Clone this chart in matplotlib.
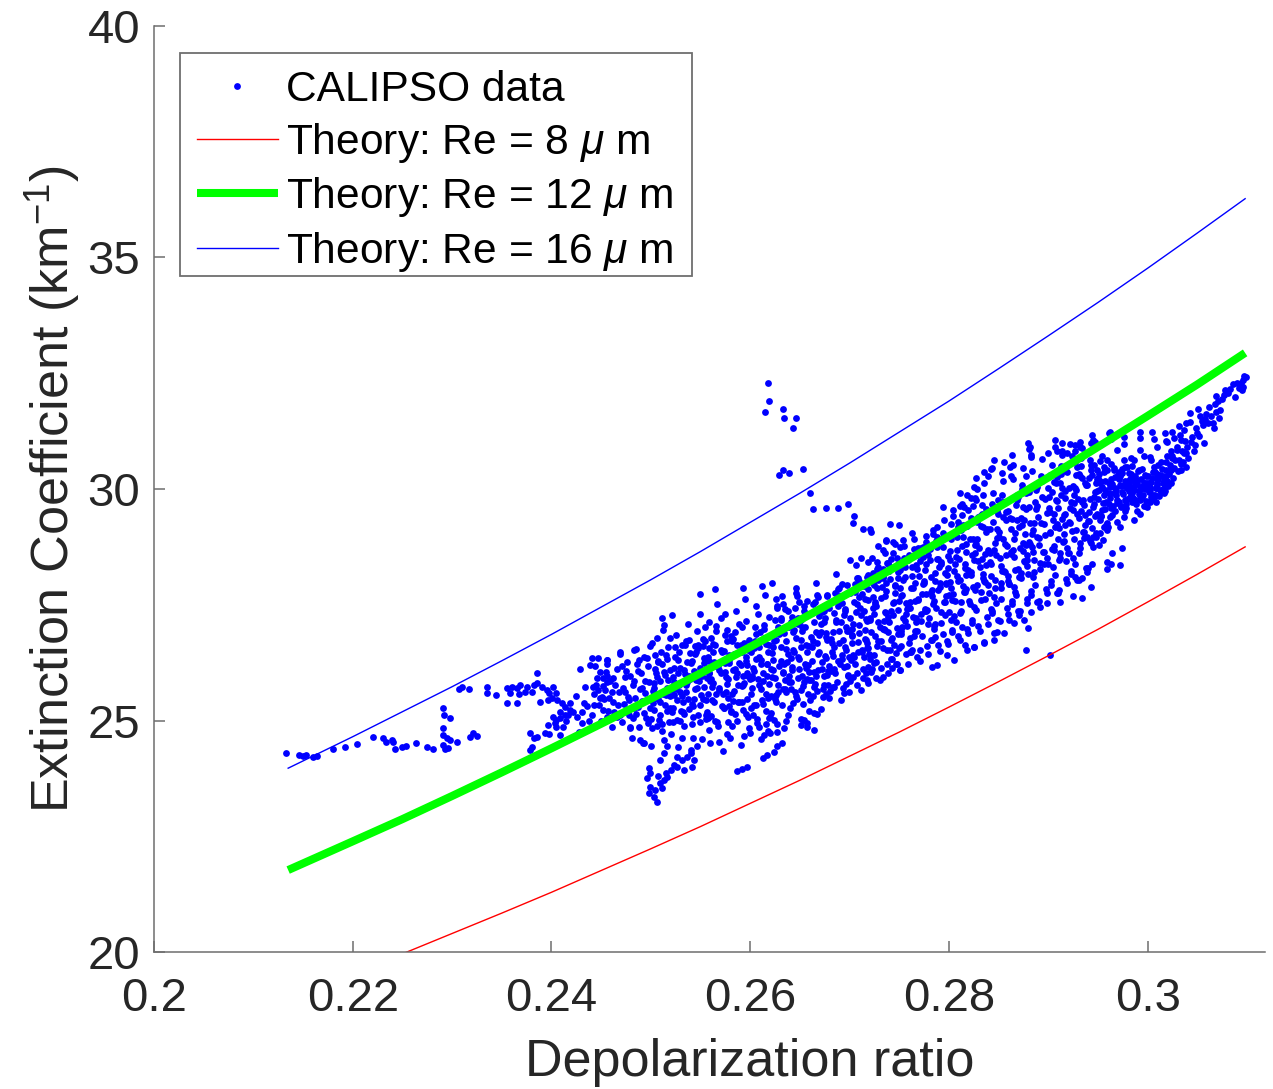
import matplotlib
matplotlib.use("Agg")
import matplotlib.pyplot as plt
from matplotlib.patches import Rectangle

plt.rcParams['font.family'] = ['Liberation Sans', 'DejaVu Sans']
plt.rcParams['mathtext.fontset'] = 'custom'
plt.rcParams['mathtext.rm'] = 'Liberation Sans'
plt.rcParams['mathtext.it'] = 'Liberation Sans:italic'
plt.rcParams['mathtext.bf'] = 'Liberation Sans:bold'

# ---------------- data ----------------
x_ticks = [0.2, 0.22, 0.24, 0.26, 0.28, 0.3]
x_tick_labels = ["0.2", "0.22", "0.24", "0.26", "0.28", "0.3"]
y_ticks = [20, 25, 30, 35, 40]
y_tick_labels = ["20", "25", "30", "35", "40"]

theory_x = [0.2135, 0.22, 0.225, 0.23, 0.235, 0.24, 0.245, 0.25, 0.255, 0.26,
            0.265, 0.27, 0.275, 0.28, 0.285, 0.29, 0.295, 0.30, 0.305, 0.3098]
re8_y = [19.00, 19.54, 19.96, 20.40, 20.84, 21.29, 21.76, 22.23, 22.71, 23.21,
         23.71, 24.23, 24.75, 25.29, 25.84, 26.40, 26.97, 27.56, 28.16, 28.75]
re12_y = [21.77, 22.39, 22.87, 23.37, 23.88, 24.40, 24.93, 25.47, 26.02, 26.59,
          27.17, 27.76, 28.36, 28.98, 29.61, 30.25, 30.91, 31.58, 32.26, 32.94]
re16_y = [23.97, 24.65, 25.19, 25.73, 26.29, 26.86, 27.45, 28.04, 28.65, 29.28,
          29.91, 30.56, 31.23, 31.90, 32.60, 33.31, 34.03, 34.77, 35.53, 36.27]

# CALIPSO points: low-depolarization tail
tail_pts = [
 (0.2133,24.30),(0.2146,24.25),(0.2150,24.23),(0.2153,24.25),(0.2160,24.21),(0.2164,24.23),(0.2180,24.38),
 (0.2192,24.43),(0.2204,24.49),(0.2220,24.64),(0.2230,24.62),(0.2233,24.54),(0.2240,24.58),(0.2241,24.54),
 (0.2243,24.38),(0.2250,24.43),(0.2254,24.45),(0.2264,24.51),(0.2275,24.43),(0.2281,24.38),(0.2291,25.27),
 (0.2292,25.12),(0.2298,25.05),(0.2291,24.84),(0.2291,24.69),(0.2295,24.62),(0.2298,24.58),(0.2291,24.47),
 (0.2293,24.38),(0.2296,24.41),(0.2305,24.54),(0.2307,25.68),(0.2310,25.72),(0.2317,25.68),(0.2318,24.64),
 (0.2321,24.73),(0.2325,24.66),(0.2335,25.72),(0.2335,25.59),(0.2344,25.55),
 (0.2355,25.70),(0.2360,25.73),(0.2365,25.70),(0.2368,25.77),(0.2375,25.73),(0.2382,25.77),(0.2385,25.80),
 (0.2390,25.73),(0.2395,25.66),(0.2402,25.73),(0.2405,25.59),(0.2358,25.60),(0.2367,25.57),(0.2373,25.62),
 (0.2380,25.62),(0.2397,25.59),(0.2385,26.03),(0.2355,25.38),(0.2365,25.38),(0.2388,25.40),(0.2396,25.44),
 (0.2401,25.49),(0.2406,25.44),(0.2411,25.38),(0.2419,25.38),
 (0.2402,25.08),(0.2405,25.01),(0.2409,25.05),(0.2414,25.12),(0.2419,25.23),(0.2422,25.19),(0.2426,25.08),
 (0.2431,25.19),(0.2433,25.37),(0.2431,24.94),(0.2415,24.98),(0.2412,24.87),(0.2405,24.87),(0.2404,24.94),
 (0.2396,24.90),(0.2414,25.30),(0.2409,25.19),(0.2417,25.12),
 (0.2378,24.72),(0.2382,24.62),(0.2385,24.65),(0.2380,24.43),(0.2378,24.36),(0.2393,24.72),(0.2397,24.71),
 (0.2409,24.69),
 (0.2429,26.11),(0.2441,26.34),(0.2439,26.20),(0.2447,26.34),(0.2456,26.23),(0.2449,26.05),(0.2452,25.91),
 (0.2434,25.73),(0.2442,25.73),(0.2454,25.66),(0.2449,25.48),(0.2456,25.84),
 (0.2425,25.52),(0.2436,25.31),(0.2438,24.98),(0.2428,24.76),
]

# CALIPSO points: isolated points above the main cloud
outlier_pts = [
 (0.2618,32.30),(0.2619,31.91),(0.2615,31.66),(0.2633,31.72),(0.2634,31.54),(0.2646,31.54),(0.2643,31.31),
 (0.2629,30.30),(0.2633,30.40),(0.2639,30.35),(0.2653,30.43),(0.2660,29.92),(0.2663,29.57),(0.2676,29.60),
 (0.2688,29.60),(0.2698,29.68),(0.2704,29.42),(0.2703,29.26),(0.2713,29.13),(0.2721,29.13),(0.2722,29.08),
 (0.2741,29.24),(0.2750,29.22),(0.2729,28.77),(0.2737,28.88),(0.2744,28.86),(0.2736,28.62),
]

# CALIPSO points: edges of the main cloud
edge_pts = [
 (0.2498,23.97),(0.2499,23.86),(0.2496,23.75),(0.2499,23.57),(0.2498,23.43),(0.2503,23.34),(0.2506,23.23),
 (0.2504,23.50),(0.2509,23.64),(0.2513,23.72),(0.2516,23.79),(0.2515,23.86),(0.2520,23.93),(0.2523,24.04),
 (0.2511,23.55),(0.2507,23.80),
 (0.2509,24.15),(0.2513,24.29),(0.2516,24.44),(0.2526,24.22),(0.2531,24.15),(0.2536,24.22),(0.2540,24.29),
 (0.2543,24.15),(0.2546,24.44),(0.2541,24.00),(0.2533,23.93),(0.2526,24.00),
 (0.2587,23.90),(0.2592,23.95),(0.2597,24.00),(0.2613,24.18),(0.2617,24.26),(0.2624,24.33),(0.2627,24.44),
 (0.2614,24.69),(0.2620,24.73),(0.2627,24.76),(0.2634,24.83),(0.2632,24.51),(0.2651,24.90),(0.2657,24.94),
 (0.2664,25.16),
 (0.2549,27.73),(0.2565,27.83),(0.2593,27.86),(0.2612,27.91),(0.2622,27.98),(0.2646,27.75),(0.2632,27.68),
 (0.2513,27.06),(0.2521,27.28),(0.2511,27.21),(0.2456,26.31),(0.2469,26.49),(0.2483,26.52),(0.2493,26.38),
 (0.2499,26.60),(0.2456,25.08),(0.2469,25.12),(0.2479,24.87),(0.2489,24.58),(0.2493,24.51),
 (0.2761,26.49),(0.2768,26.38),(0.2786,26.81),(0.2798,26.41),(0.2805,26.31),(0.2816,26.63),(0.2825,26.59),
 (0.2835,26.67),(0.2845,26.88),(0.2783,26.16),(0.2788,26.20),(0.2751,26.09),(0.2748,26.23),(0.2743,26.13),
 (0.2734,25.95),(0.2727,25.91),(0.2717,25.87),(0.2707,25.77),(0.2694,25.59),(0.2684,25.73),(0.2674,25.77),
 (0.2664,25.73),(0.2667,25.15),(0.2657,24.87),(0.2654,25.01),(0.2664,24.79),
 (0.2700,28.47),(0.2711,28.50),(0.2718,28.43),(0.2728,28.43),(0.2738,28.40),(0.2724,28.18),(0.2734,28.68),
 (0.2751,28.75),(0.2754,28.90),(0.2763,29.04),(0.2746,28.82),(0.2737,28.90),
 (0.2880,30.99),(0.2882,30.91),(0.2907,31.06),(0.2914,30.99),(0.2922,30.97),(0.2927,30.95),(0.2932,31.02),
 (0.2944,31.17),(0.2947,31.02),(0.2961,31.20),(0.2900,30.77),(0.2909,30.81),(0.2883,30.70),(0.2863,30.73),
 (0.2855,30.59),(0.2845,30.63),(0.2843,30.45),(0.2835,30.37),
 (0.2818,26.52),(0.2825,26.59),(0.2835,26.70),(0.2845,26.74),(0.2855,26.88),(0.2865,27.10),(0.2875,27.17),
 (0.2883,27.35),(0.2892,27.46),(0.2899,27.53),(0.2912,27.57),(0.2910,27.75),(0.2927,28.11),(0.2934,28.07),
 (0.2940,28.29),(0.2944,28.39),(0.2959,28.43),(0.2880,26.99),(0.2870,27.28),(0.2860,27.17),(0.2848,26.92),
 (0.2959,28.27),(0.2925,27.69),(0.2934,27.65),(0.2943,27.88),(0.2963,28.38),(0.2972,28.36),(0.2877,26.52),
 (0.2902,26.41),
 (0.2881,30.86),(0.2883,30.73),(0.2907,30.91),(0.2914,30.82),(0.2919,30.78),(0.2927,30.82),(0.2932,30.91),
 (0.2943,30.99),(0.2963,31.08),(0.2976,30.97),(0.2992,31.10),(0.3006,31.08),(0.3018,31.04),(0.3026,31.10),
 (0.2813,29.68),(0.2811,29.64),(0.2826,29.80),(0.2828,30.00),(0.2835,30.12),(0.2839,30.27),(0.2842,30.43),
 (0.2853,30.35),(0.2861,30.47),(0.2862,30.27),(0.2864,30.51),(0.2795,29.33),(0.2802,29.25),(0.2788,29.17),
 (0.2784,29.02),(0.2777,28.86),(0.2765,28.70),(0.2755,28.51),(0.2749,28.39),(0.2740,28.23),(0.2734,28.07),
 (0.2707,28.07),(0.2718,28.15),(0.2725,27.92),(0.2700,27.76),(0.2689,27.68),(0.2678,27.52),(0.2670,27.37),
 (0.2659,27.29),(0.2648,27.21),(0.2641,27.13),
 (0.2794,29.62),(0.2804,29.55),(0.2811,29.91),(0.2818,29.87),(0.2825,30.05),(0.2827,30.23),(0.2822,29.80),
 (0.2815,29.62),
]

# CALIPSO points: high-depolarization end of the cloud
right_pts = [
 (0.2962,31.24),(0.2976,31.13),(0.2945,31.06),(0.2992,31.24),(0.3004,31.24),(0.3017,31.20),(0.3024,31.24),
 (0.3031,31.35),(0.3038,31.42),(0.3043,31.65),(0.3051,31.72),(0.3053,31.58),(0.3043,31.45),(0.3036,31.27),
 (0.3033,31.06),(0.3019,31.02),(0.3009,30.91),(0.3023,30.81),(0.3029,30.84),(0.3036,30.77),(0.3039,30.77),
 (0.3048,30.95),(0.3056,31.38),(0.3066,31.42),(0.3067,31.31),(0.3069,32.00),(0.3071,31.89),(0.3073,31.71),
 (0.3069,31.67),(0.3078,32.14),(0.3086,32.27),(0.3090,32.30),(0.3096,32.35),(0.3095,32.14),(0.3096,32.21),
 (0.3033,30.55),(0.3033,30.41),(0.3002,30.70),(0.2992,30.84),(0.2986,30.63),(0.2979,30.48),(0.2969,30.84),
 (0.2959,30.63),(0.2949,30.41),(0.2942,30.63),(0.2952,30.12),(0.2962,30.05),(0.2972,30.27),(0.2982,30.05),
 (0.2989,30.20),(0.2996,30.12),(0.3002,30.05),(0.3009,30.09),(0.3016,29.91),(0.3006,29.83),(0.2992,29.76),
 (0.2982,29.83),(0.2969,29.76),(0.2955,29.69),(0.2949,29.47),(0.2962,29.40),(0.2976,29.40),(0.2986,29.33),
 (0.2992,29.47),(0.2972,29.19),(0.2960,29.19),(0.2955,28.90),(0.2964,28.62),(0.2974,28.72),(0.2945,28.75),
 (0.2944,29.15),(0.2952,29.04),
 (0.2961,29.92),(0.2963,30.21),(0.2965,29.64),(0.2966,30.42),(0.2968,29.98),(0.2970,30.31),(0.2971,29.71),
 (0.2973,30.06),(0.2975,29.89),(0.2977,30.47),(0.2978,29.58),(0.2980,30.18),(0.2981,29.95),(0.2983,30.32),
 (0.2985,29.81),(0.2987,30.09),(0.2988,29.67),(0.2990,30.39),(0.2991,29.96),(0.2993,30.22),(0.2995,29.87),
 (0.2997,30.01),(0.2998,29.74),(0.3000,30.28),(0.3001,29.93),(0.3003,30.16),(0.3005,29.88),(0.3007,30.36),
 (0.3008,30.02),(0.3010,30.21),(0.3012,29.97),(0.3014,30.44),(0.3015,30.12),(0.3018,30.29),(0.3020,30.07),
 (0.3022,30.52),(0.3025,30.24),(0.3027,30.63),(0.3030,30.38),(0.3035,30.58),(0.3040,30.91),(0.3045,31.12),
 (0.3050,31.21),(0.3058,31.52),(0.3062,31.77),(0.3075,31.95),(0.3081,32.08),(0.3092,32.19),(0.3099,32.41),
]

# CALIPSO points: body of the main cloud
core_pts = [
 (0.2441,25.12),(0.2443,25.58),(0.2446,25.91),(0.2444,26.18),(0.2448,25.33),(0.2450,24.98),(0.2452,25.74),
 (0.2455,26.05),(0.2453,25.47),(0.2457,25.21),(0.2459,25.86),(0.2456,26.31),
 (0.2461,24.86),(0.2462,25.41),(0.2464,25.77),(0.2466,26.12),(0.2463,25.19),(0.2468,25.62),(0.2469,26.44),
 (0.2471,24.97),(0.2473,25.35),(0.2474,25.93),(0.2476,26.27),(0.2477,25.51),(0.2479,24.83),(0.2478,25.12),
 (0.2481,24.62),(0.2482,25.05),(0.2484,25.48),(0.2483,25.86),(0.2486,26.21),(0.2485,26.55),(0.2488,24.87),
 (0.2487,25.29),(0.2489,25.68),(0.2490,26.02),(0.2492,24.51),(0.2493,25.17),(0.2494,25.59),(0.2496,26.36),
 (0.2497,24.95),(0.2498,25.83),
 (0.2500,24.45),(0.2501,24.83),(0.2503,25.22),(0.2502,25.64),(0.2505,26.03),(0.2504,26.41),(0.2506,26.78),
 (0.2508,25.01),(0.2507,25.47),(0.2509,25.86),(0.2511,26.22),(0.2512,26.95),(0.2513,24.58),(0.2514,25.33),
 (0.2516,25.71),(0.2517,26.58),(0.2518,24.97),(0.2519,26.09),
 (0.2520,24.71),(0.2521,25.18),(0.2523,25.55),(0.2522,25.93),(0.2524,26.37),(0.2525,26.84),(0.2527,24.43),
 (0.2526,25.02),(0.2528,25.76),(0.2529,26.14),(0.2531,26.62),(0.2532,25.39),(0.2533,24.88),(0.2535,25.62),
 (0.2534,26.01),(0.2537,27.08),(0.2538,25.24),(0.2539,26.45),
 (0.2540,24.36),(0.2541,24.92),(0.2542,25.31),(0.2544,25.68),(0.2543,26.07),(0.2545,26.49),(0.2546,26.93),
 (0.2547,25.12),(0.2548,25.85),(0.2549,27.29),(0.2551,24.61),(0.2552,25.47),(0.2553,26.24),(0.2554,26.71),
 (0.2555,25.03),(0.2556,25.92),(0.2557,26.38),(0.2558,24.79),(0.2559,27.12),(0.2557,25.58),
 (0.2560,24.52),(0.2561,25.09),(0.2562,25.44),(0.2563,25.81),(0.2564,26.26),(0.2565,26.63),(0.2566,27.05),
 (0.2567,27.52),(0.2568,24.88),(0.2569,25.66),(0.2571,26.02),(0.2572,26.47),(0.2573,24.34),(0.2574,25.27),
 (0.2575,26.85),(0.2576,25.93),(0.2577,24.71),(0.2578,25.49),(0.2579,26.31),(0.2575,27.31),
 (0.2580,24.63),(0.2581,25.21),(0.2582,25.58),(0.2583,26.09),(0.2584,26.44),(0.2585,26.91),(0.2586,27.36),
 (0.2587,24.98),(0.2588,25.77),(0.2589,26.25),(0.2591,24.47),(0.2592,25.39),(0.2593,25.96),(0.2594,26.68),
 (0.2595,27.62),(0.2596,25.13),(0.2597,26.02),(0.2598,26.53),(0.2599,24.84),(0.2596,27.14),
 (0.2600,24.72),(0.2601,25.28),(0.2602,25.71),(0.2603,26.14),(0.2604,26.56),(0.2605,27.02),(0.2606,27.47),
 (0.2607,25.03),(0.2608,25.89),(0.2609,26.37),(0.2611,24.61),(0.2612,25.44),(0.2613,26.03),(0.2614,26.79),
 (0.2615,27.71),(0.2616,25.21),(0.2617,25.97),(0.2618,26.48),(0.2619,27.23),(0.2616,24.93),
 (0.2620,25.08),(0.2621,25.52),(0.2622,25.94),(0.2623,26.31),(0.2624,26.72),(0.2625,27.18),(0.2626,27.63),
 (0.2627,24.92),(0.2628,25.76),(0.2629,26.17),(0.2631,26.59),(0.2632,25.33),(0.2633,26.04),(0.2634,26.88),
 (0.2635,27.41),(0.2636,25.61),(0.2637,26.26),(0.2638,25.12),(0.2639,27.02),(0.2635,25.87),
 (0.2640,25.26),(0.2641,25.69),(0.2642,26.08),(0.2643,26.52),(0.2644,26.96),(0.2645,27.42),(0.2646,27.87),
 (0.2647,25.47),(0.2648,25.91),(0.2649,26.33),(0.2651,26.74),(0.2652,27.19),(0.2653,25.35),(0.2654,25.83),
 (0.2655,26.21),(0.2656,26.64),(0.2657,27.58),(0.2658,25.58),(0.2659,26.05),(0.2655,27.01),
 (0.2660,25.44),(0.2661,25.87),(0.2662,26.29),(0.2663,26.71),(0.2664,27.13),(0.2665,27.56),(0.2666,27.97),
 (0.2667,25.63),(0.2668,26.08),(0.2669,26.47),(0.2671,26.92),(0.2672,27.34),(0.2673,25.51),(0.2674,25.96),
 (0.2675,26.39),(0.2676,26.81),(0.2677,27.72),(0.2678,25.76),(0.2679,26.18),(0.2675,27.21),
 (0.2680,25.64),(0.2681,26.07),(0.2682,26.49),(0.2683,26.91),(0.2684,27.33),(0.2685,27.76),(0.2686,28.17),
 (0.2687,25.83),(0.2688,26.28),(0.2689,26.67),(0.2691,27.12),(0.2692,27.54),(0.2693,25.71),(0.2694,26.16),
 (0.2695,26.59),(0.2696,27.01),(0.2697,27.92),(0.2698,25.96),(0.2699,26.38),(0.2695,27.41),
 (0.2700,25.86),(0.2701,26.31),(0.2702,26.68),(0.2703,27.09),(0.2704,27.55),(0.2705,27.94),(0.2706,28.36),
 (0.2707,26.02),(0.2708,26.47),(0.2709,26.89),(0.2711,27.28),(0.2712,27.73),(0.2713,25.92),(0.2714,26.38),
 (0.2715,26.77),(0.2716,27.19),(0.2717,28.11),(0.2718,26.15),(0.2719,26.57),(0.2715,27.62),
 (0.2720,26.43),(0.2722,26.05),(0.2721,27.21),(0.2724,27.66),(0.2723,28.52),(0.2726,26.82),(0.2725,26.24),
 (0.2727,27.47),(0.2729,28.03),(0.2728,26.61),(0.2731,27.02),(0.2733,27.88),(0.2732,26.13),(0.2735,26.97),
 (0.2734,28.27),(0.2736,27.34),(0.2738,26.52),(0.2737,27.79),(0.2739,26.91),(0.2739,28.41),
 (0.2740,27.12),(0.2742,26.33),(0.2741,28.06),(0.2743,26.78),(0.2745,27.57),(0.2744,28.61),(0.2747,26.21),
 (0.2746,27.93),(0.2748,26.99),(0.2749,27.38),(0.2751,28.24),(0.2750,26.57),(0.2753,27.71),(0.2752,26.86),
 (0.2755,28.77),(0.2754,27.22),(0.2757,26.44),(0.2756,28.11),(0.2758,27.04),(0.2759,27.49),
 (0.2760,26.68),(0.2761,27.44),(0.2763,28.31),(0.2762,26.47),(0.2764,27.86),(0.2765,28.92),(0.2767,27.13),
 (0.2766,26.94),(0.2768,28.58),(0.2769,27.62),(0.2771,26.53),(0.2770,28.12),(0.2772,27.29),(0.2774,28.74),
 (0.2773,26.82),(0.2775,27.97),(0.2776,27.41),(0.2778,26.61),(0.2777,28.39),(0.2779,27.08),
 (0.2780,27.21),(0.2781,28.47),(0.2782,26.73),(0.2783,27.69),(0.2784,29.12),(0.2786,28.01),(0.2785,26.98),
 (0.2787,27.43),(0.2788,28.74),(0.2789,26.64),(0.2791,27.88),(0.2790,28.32),(0.2792,27.11),(0.2794,26.87),
 (0.2793,28.93),(0.2795,27.57),(0.2796,28.19),(0.2798,26.72),(0.2797,27.96),(0.2799,28.56),
 (0.2800,27.34),(0.2801,28.66),(0.2803,26.92),(0.2802,27.87),(0.2804,29.41),(0.2805,28.23),(0.2807,27.12),
 (0.2806,27.59),(0.2808,28.97),(0.2809,26.83),(0.2811,28.04),(0.2810,28.49),(0.2812,27.36),(0.2814,29.22),
 (0.2813,27.01),(0.2815,27.78),(0.2816,28.38),(0.2818,26.98),(0.2817,28.81),(0.2819,29.55),
 (0.2820,27.58),(0.2821,28.92),(0.2823,27.11),(0.2822,28.14),(0.2824,29.63),(0.2825,28.47),(0.2827,27.39),
 (0.2826,27.82),(0.2828,29.28),(0.2829,27.05),(0.2831,28.31),(0.2830,28.73),(0.2832,27.61),(0.2834,29.87),
 (0.2833,29.47),(0.2835,28.02),(0.2836,28.59),(0.2838,27.24),(0.2837,29.08),(0.2839,27.93),
 (0.2840,27.76),(0.2841,29.14),(0.2843,27.32),(0.2842,28.37),(0.2844,29.91),(0.2845,28.68),(0.2847,27.54),
 (0.2846,28.04),(0.2848,29.52),(0.2849,27.18),(0.2851,28.51),(0.2850,28.96),(0.2852,27.87),(0.2854,30.17),
 (0.2853,29.73),(0.2855,28.22),(0.2856,28.81),(0.2858,27.43),(0.2857,29.33),(0.2859,28.12),
 (0.2860,27.94),(0.2861,29.38),(0.2863,27.51),(0.2862,28.59),(0.2864,30.21),(0.2865,28.91),(0.2867,27.72),
 (0.2866,28.26),(0.2868,29.77),(0.2869,27.36),(0.2871,28.73),(0.2870,29.18),(0.2872,28.07),(0.2874,30.46),
 (0.2873,30.01),(0.2875,28.44),(0.2876,29.03),(0.2878,27.62),(0.2877,29.56),(0.2879,28.34),
 (0.2880,28.16),(0.2881,29.61),(0.2883,27.72),(0.2882,28.81),(0.2884,30.39),(0.2885,29.12),(0.2887,27.93),
 (0.2886,28.47),(0.2888,29.97),(0.2889,27.56),(0.2891,28.94),(0.2890,29.39),(0.2892,28.28),(0.2894,30.64),
 (0.2893,30.18),(0.2895,28.63),(0.2896,29.24),(0.2898,27.83),(0.2897,29.78),(0.2899,28.52),
 (0.2900,28.38),(0.2901,29.82),(0.2903,27.93),(0.2902,29.04),(0.2904,30.52),(0.2905,29.33),(0.2907,28.14),
 (0.2906,28.69),(0.2908,30.13),(0.2909,27.76),(0.2911,29.16),(0.2910,29.58),(0.2912,28.51),(0.2914,30.74),
 (0.2913,30.33),(0.2915,28.86),(0.2916,29.44),(0.2918,28.06),(0.2917,29.96),(0.2919,28.72),
 (0.2920,28.61),(0.2921,30.02),(0.2923,28.17),(0.2922,29.27),(0.2924,30.71),(0.2925,29.54),(0.2927,28.38),
 (0.2926,28.91),(0.2928,30.31),(0.2929,28.04),(0.2931,29.38),(0.2930,29.79),(0.2932,28.73),(0.2934,30.88),
 (0.2933,30.49),(0.2935,29.08),(0.2936,29.66),(0.2938,28.29),(0.2937,30.14),(0.2939,28.96),
 (0.2940,29.31),(0.2941,30.24),(0.2943,28.83),(0.2945,29.62),(0.2946,30.51),(0.2947,29.94),(0.2948,28.97),
 (0.2950,29.78),(0.2951,30.33),(0.2953,29.42),(0.2954,30.71),(0.2956,29.87),(0.2957,30.18),(0.2958,29.23),
]

# CALIPSO points: additional points in the dense part of the cloud
fill_pts = [
 (0.2443,25.34),(0.2447,25.66),(0.2452,25.22),(0.2458,25.49),(0.2462,25.91),(0.2467,25.33),(0.2472,25.71),
 (0.2475,26.06),(0.2478,25.44),(0.2482,25.76),(0.2485,25.14),(0.2487,26.07),(0.2491,25.42),(0.2494,25.86),
 (0.2497,26.18),(0.2499,25.26),
 (0.2502,25.38),(0.2509,25.12),(0.2515,26.41),(0.2506,25.93),(0.2519,25.52),(0.2511,24.77),(0.2504,26.12),
 (0.2517,25.87),(0.2501,26.68),(0.2513,26.05),
 (0.2522,25.28),(0.2529,25.61),(0.2536,26.27),(0.2524,26.58),(0.2533,25.13),(0.2539,25.89),(0.2527,26.03),
 (0.2531,24.63),(0.2538,26.73),(0.2526,25.44),(0.2535,25.77),
 (0.2543,25.47),(0.2551,25.97),(0.2547,26.63),(0.2556,25.18),(0.2541,26.28),(0.2558,26.57),(0.2549,24.97),
 (0.2553,25.72),(0.2545,25.87),(0.2559,26.02),(0.2542,24.63),(0.2554,27.03),
 (0.2562,25.73),(0.2568,26.17),(0.2573,25.58),(0.2577,26.72),(0.2565,24.98),(0.2571,27.21),(0.2579,25.31),
 (0.2563,26.48),(0.2575,26.04),(0.2569,24.53),(0.2578,25.89),(0.2566,26.93),
 (0.2583,25.42),(0.2587,26.63),(0.2592,25.74),(0.2596,26.37),(0.2581,26.82),(0.2594,24.66),(0.2598,25.97),
 (0.2585,25.14),(0.2589,27.08),(0.2597,25.46),(0.2582,24.89),(0.2591,26.19),
 (0.2602,25.96),(0.2606,26.33),(0.2611,25.67),(0.2614,26.98),(0.2603,25.11),(0.2617,26.23),(0.2609,24.87),
 (0.2619,25.78),(0.2605,26.71),(0.2613,25.36),(0.2608,27.29),(0.2618,24.78),
 (0.2621,26.12),(0.2626,25.41),(0.2629,26.87),(0.2633,25.69),(0.2638,26.43),(0.2624,25.02),(0.2631,27.18),
 (0.2636,24.99),(0.2623,26.58),(0.2639,25.84),(0.2627,27.42),(0.2634,26.21),
 (0.2641,26.34),(0.2645,25.62),(0.2648,27.08),(0.2652,25.97),(0.2657,26.49),(0.2643,25.38),(0.2654,27.37),
 (0.2659,25.21),(0.2646,26.79),(0.2651,25.03),(0.2656,26.14),(0.2649,27.56),
 (0.2662,26.58),(0.2665,25.79),(0.2669,27.26),(0.2672,26.11),(0.2677,26.73),(0.2663,25.52),(0.2674,27.48),
 (0.2679,25.48),(0.2666,26.91),(0.2671,25.24),(0.2676,26.36),(0.2668,27.66),
 (0.2681,26.77),(0.2685,26.02),(0.2688,27.47),(0.2692,26.33),(0.2697,26.94),(0.2683,25.73),(0.2694,27.72),
 (0.2699,25.61),(0.2686,27.16),(0.2691,25.44),(0.2696,26.53),(0.2689,27.87),
 (0.2702,26.97),(0.2705,26.21),(0.2709,27.66),(0.2712,26.52),(0.2717,27.14),(0.2703,25.93),(0.2714,27.91),
 (0.2719,25.82),(0.2706,27.35),(0.2711,25.66),(0.2716,26.74),(0.2708,28.08),
 (0.2721,27.16),(0.2725,26.41),(0.2728,27.86),(0.2732,26.72),(0.2737,27.33),(0.2723,26.12),(0.2734,28.12),
 (0.2739,26.03),(0.2726,27.55),(0.2731,25.87),(0.2736,26.95),(0.2729,28.31),
 (0.2742,27.36),(0.2745,26.62),(0.2749,28.07),(0.2752,26.93),(0.2757,27.54),(0.2743,26.32),(0.2754,28.33),
 (0.2759,26.23),(0.2746,27.76),(0.2751,26.08),(0.2756,27.15),(0.2748,28.52),
 (0.2761,27.57),(0.2765,26.83),(0.2768,28.27),(0.2772,27.14),(0.2777,27.73),(0.2763,26.53),(0.2774,28.54),
 (0.2779,26.44),(0.2766,27.97),(0.2771,26.29),(0.2776,27.36),(0.2769,28.73),
 (0.2782,27.78),(0.2785,27.04),(0.2789,28.48),(0.2792,27.35),(0.2797,27.94),(0.2783,26.74),(0.2794,28.75),
 (0.2799,26.66),(0.2786,28.18),(0.2791,26.51),(0.2796,27.57),(0.2788,28.96),
 (0.2801,27.99),(0.2805,27.25),(0.2808,28.69),(0.2812,27.56),(0.2817,28.15),(0.2803,26.95),(0.2814,28.96),
 (0.2819,26.88),(0.2806,28.39),(0.2811,26.73),(0.2816,27.78),(0.2809,29.17),(0.2813,29.43),
 (0.2822,28.21),(0.2825,27.46),(0.2828,28.91),(0.2832,27.77),(0.2837,28.36),(0.2823,27.16),(0.2834,29.18),
 (0.2839,27.09),(0.2826,28.61),(0.2831,26.94),(0.2836,27.99),(0.2829,29.39),(0.2833,29.66),
 (0.2841,28.42),(0.2845,27.67),(0.2848,29.13),(0.2852,27.98),(0.2857,28.58),(0.2843,27.37),(0.2854,29.39),
 (0.2859,27.31),(0.2846,28.83),(0.2851,27.15),(0.2856,28.21),(0.2849,29.61),(0.2853,29.88),
 (0.2862,28.64),(0.2865,27.88),(0.2868,29.34),(0.2872,28.19),(0.2877,28.79),(0.2863,27.58),(0.2874,29.61),
 (0.2879,27.53),(0.2866,29.04),(0.2871,27.37),(0.2876,28.43),(0.2869,29.82),(0.2873,30.09),
 (0.2881,28.85),(0.2885,28.09),(0.2888,29.56),(0.2892,28.41),(0.2897,29.01),(0.2883,27.79),(0.2894,29.82),
 (0.2899,27.76),(0.2886,29.26),(0.2891,27.59),(0.2896,28.64),(0.2889,30.04),(0.2893,30.28),
 (0.2902,29.07),(0.2905,28.31),(0.2908,29.77),(0.2912,28.62),(0.2917,29.23),(0.2903,28.01),(0.2914,30.03),
 (0.2919,27.98),(0.2906,29.47),(0.2911,27.81),(0.2916,28.87),(0.2909,30.26),(0.2913,30.49),
 (0.2921,29.28),(0.2925,28.52),(0.2928,29.98),(0.2932,28.84),(0.2937,29.44),(0.2923,28.23),(0.2934,30.24),
 (0.2939,28.21),(0.2926,29.69),(0.2931,28.04),(0.2936,29.08),(0.2929,30.47),(0.2933,30.68),
 (0.2941,29.51),(0.2945,28.97),(0.2948,30.12),(0.2952,29.33),(0.2957,29.56),(0.2943,30.42),(0.2954,30.04),
 (0.2959,29.12),(0.2946,29.83),(0.2951,28.79),(0.2956,30.47),(0.2949,30.21),
 (0.2961,29.68),(0.2964,30.11),(0.2967,29.52),(0.2971,30.36),(0.2974,29.93),(0.2977,30.18),(0.2979,29.79),
 (0.2963,30.54),(0.2969,29.28),(0.2976,30.62),(0.2966,29.91),(0.2973,29.61),
 (0.2981,30.11),(0.2984,29.72),(0.2987,30.27),(0.2991,29.89),(0.2994,30.43),(0.2997,30.14),(0.2999,29.62),
 (0.2983,30.66),(0.2989,29.53),(0.2996,30.71),(0.2986,29.97),(0.2993,30.05),
 (0.3001,30.13),(0.3004,29.79),(0.3006,30.47),(0.3009,30.32),(0.3011,29.84),(0.3013,30.58),(0.3016,30.19),
 (0.3019,30.72),(0.3003,30.62),(0.3008,29.72),(0.3015,30.01),(0.3018,30.41),
 (0.3021,30.33),(0.3024,30.71),(0.3026,30.46),(0.3029,30.91),(0.3031,30.62),(0.3034,30.81),(0.3037,31.03),
 (0.3039,30.47),(0.3023,30.14),(0.3032,31.16),
 (0.3041,30.67),(0.3044,31.02),(0.3047,30.83),(0.3049,31.32),(0.3052,31.14),(0.3055,31.47),(0.3057,30.99),
 (0.3059,31.61),
 (0.3061,31.42),(0.3064,31.58),(0.3068,31.83),(0.3072,31.54),(0.3077,32.02),(0.3083,32.17),(0.3088,31.98),
 (0.3094,32.28),(0.3097,32.44),
]

# CALIPSO points: the most crowded zones of the cloud
dense_pts = [
 (0.2523,25.83),(0.2527,26.31),(0.2531,25.52),(0.2534,26.62),(0.2538,25.97),(0.2541,25.36),(0.2544,26.44),
 (0.2546,25.71),(0.2549,26.13),(0.2552,26.77),(0.2555,25.44),(0.2558,26.28),(0.2561,25.89),(0.2563,26.66),
 (0.2566,25.57),(0.2569,26.09),(0.2572,25.32),(0.2574,26.51),(0.2577,25.78),(0.2579,26.24),(0.2582,26.71),
 (0.2584,25.64),(0.2587,26.03),(0.2589,25.39),(0.2592,26.47),(0.2594,25.82),(0.2597,26.19),(0.2599,26.74),
 (0.2601,25.58),(0.2604,26.07),(0.2606,25.34),(0.2609,26.58),(0.2611,26.21),(0.2613,25.86),(0.2616,26.66),
 (0.2618,25.49),(0.2532,25.18),(0.2557,25.06),(0.2578,24.96),(0.2593,25.22),(0.2607,24.95),(0.2619,25.06),
 (0.2622,26.46),(0.2625,25.91),(0.2628,27.03),(0.2631,26.28),(0.2633,27.51),(0.2636,26.72),(0.2639,25.97),
 (0.2642,27.24),(0.2644,26.49),(0.2647,27.68),(0.2649,26.11),(0.2652,26.93),(0.2654,27.47),(0.2657,25.89),
 (0.2659,26.61),(0.2662,27.32),(0.2664,26.04),(0.2667,27.71),(0.2669,26.84),(0.2672,26.27),(0.2674,27.13),
 (0.2677,25.99),(0.2679,27.44),(0.2682,26.68),(0.2684,26.12),(0.2687,27.61),(0.2689,26.94),(0.2692,26.41),
 (0.2694,27.27),(0.2697,26.18),(0.2699,27.78),(0.2702,26.83),(0.2704,26.37),(0.2707,27.51),(0.2709,27.06),
 (0.2712,26.48),(0.2714,27.36),(0.2717,26.67),(0.2719,27.83),(0.2722,26.91),(0.2724,27.44),(0.2727,26.26),
 (0.2729,27.12),(0.2732,27.64),(0.2734,26.57),(0.2737,27.96),(0.2739,27.23),(0.2742,26.74),(0.2744,27.54),
 (0.2747,26.46),(0.2749,28.21),(0.2626,25.54),(0.2651,25.66),(0.2676,25.58),(0.2696,25.78),(0.2716,26.03),
 (0.2738,26.22),
 (0.2752,27.68),(0.2754,28.04),(0.2757,27.31),(0.2759,28.47),(0.2762,27.87),(0.2764,27.23),(0.2767,28.36),
 (0.2769,27.61),(0.2772,28.73),(0.2774,27.94),(0.2777,27.37),(0.2779,28.58),(0.2782,28.11),(0.2784,27.52),
 (0.2787,28.87),(0.2789,27.81),(0.2792,28.42),(0.2794,29.04),(0.2797,27.68),(0.2799,28.29),(0.2802,28.91),
 (0.2804,27.73),(0.2807,28.54),(0.2809,28.02),(0.2812,29.12),(0.2814,27.91),(0.2817,28.63),(0.2819,28.24),
 (0.2822,29.37),(0.2824,27.88),(0.2827,28.82),(0.2829,28.44),(0.2832,29.21),(0.2834,28.07),(0.2837,29.57),
 (0.2839,28.68),(0.2842,28.13),(0.2844,29.29),(0.2847,28.57),(0.2849,29.77),(0.2852,28.34),(0.2854,28.93),
 (0.2857,29.51),(0.2859,28.01),(0.2862,29.13),(0.2864,28.69),(0.2867,29.66),(0.2869,28.27),(0.2872,29.38),
 (0.2874,28.83),(0.2877,29.92),(0.2879,28.58),(0.2882,29.27),(0.2884,28.74),(0.2887,29.71),(0.2889,28.97),
 (0.2902,29.51),(0.2904,29.93),(0.2907,29.17),(0.2909,29.74),(0.2912,30.14),(0.2914,29.36),(0.2917,29.81),
 (0.2919,30.37),(0.2922,29.58),(0.2924,29.09),(0.2927,30.02),(0.2929,29.46),(0.2932,30.27),(0.2934,29.71),
 (0.2937,29.23),(0.2939,30.09),(0.2942,29.78),(0.2944,30.31),(0.2947,29.42),(0.2949,29.96),(0.2952,30.18),
 (0.2954,29.54),(0.2957,29.97),(0.2959,30.41),(0.2962,29.81),(0.2964,29.43),(0.2967,30.26),(0.2969,29.69),
 (0.2972,30.08),(0.2974,30.44),(0.2977,29.76),(0.2979,30.03),(0.2982,30.22),(0.2984,29.91),(0.2987,29.72),
 (0.2989,30.14),(0.2992,30.01),(0.2994,29.83),(0.2997,30.31),(0.2999,30.06),(0.3002,29.97),(0.3004,30.24),
 (0.3007,29.86),(0.3009,30.12),(0.3012,30.31),(0.3014,29.93),(0.3017,30.06),(0.3019,30.17),(0.2906,28.76),
 (0.2931,28.61),(0.2956,29.17),(0.2918,28.44),
 (0.2445,25.76),(0.2451,25.51),(0.2456,25.97),(0.2461,25.62),(0.2466,25.08),(0.2471,26.18),(0.2474,25.61),
 (0.2479,25.97),(0.2483,25.27),(0.2488,26.31),(0.2491,25.71),(0.2495,25.06),(0.2503,25.82),(0.2507,26.29),
 (0.2512,25.58),(0.2516,25.21),(0.2519,26.78),
]

# CALIPSO points: further points packed into the core of the cloud
packed_pts = [
 (0.25005,25.04),(0.25032,25.71),(0.25068,26.26),(0.25093,25.41),(0.25117,24.92),(0.25141,25.98),(0.25164,26.33),
 (0.25188,25.27),(0.25212,25.66),(0.25236,26.14),(0.25057,24.88),(0.25153,25.54),(0.25224,24.96),(0.25105,26.47),
 (0.25257,25.67),(0.25281,26.48),(0.25305,25.21),(0.25329,26.09),(0.25352,26.71),(0.25376,25.46),(0.25401,26.24),
 (0.25427,25.08),(0.25453,25.91),(0.25478,26.57),(0.25296,24.99),(0.25364,25.83),(0.25442,26.61),(0.25491,25.34),
 (0.25508,25.55),(0.25533,26.36),(0.25559,25.12),(0.25582,26.03),(0.25606,26.79),(0.25631,25.39),(0.25657,26.18),
 (0.25683,25.71),(0.25709,26.52),(0.25735,25.27),(0.25521,26.61),(0.25594,25.86),(0.25668,24.97),(0.25742,26.24),
 (0.25758,25.62),(0.25783,26.41),(0.25807,25.19),(0.25831,26.77),(0.25856,25.93),(0.25881,25.41),(0.25906,26.62),
 (0.25931,25.76),(0.25957,26.28),(0.25982,25.07),(0.25769,26.96),(0.25844,26.12),(0.25918,27.02),(0.25994,25.89),
 (0.26008,26.49),(0.26033,25.34),(0.26059,26.87),(0.26084,25.77),(0.26109,26.31),(0.26134,27.06),(0.26159,25.58),
 (0.26184,26.64),(0.26209,25.17),(0.26234,26.09),(0.26021,25.91),(0.26096,26.92),(0.26171,26.23),(0.26246,25.46),
 (0.26258,26.73),(0.26283,25.61),(0.26308,27.21),(0.26333,26.02),(0.26358,26.54),(0.26383,27.36),(0.26408,25.83),
 (0.26433,26.91),(0.26458,25.52),(0.26483,26.37),(0.26271,27.48),(0.26346,25.69),(0.26421,26.16),(0.26496,27.14),
 (0.26507,26.58),(0.26532,25.74),(0.26557,27.28),(0.26582,26.19),(0.26607,26.81),(0.26632,27.51),(0.26657,25.96),
 (0.26682,26.43),(0.26707,27.09),(0.26732,25.68),(0.26519,27.02),(0.26594,25.88),(0.26669,26.67),(0.26744,27.37),
 (0.26758,26.88),(0.26783,26.07),(0.26808,27.55),(0.26833,26.39),(0.26858,27.12),(0.26883,27.83),(0.26908,26.21),
 (0.26933,26.74),(0.26958,27.37),(0.26983,25.98),(0.26771,27.69),(0.26846,26.58),(0.26921,27.94),(0.26996,26.93),
 (0.27008,27.22),(0.27033,26.41),(0.27058,27.77),(0.27083,26.69),(0.27108,27.43),(0.27133,26.12),(0.27158,26.96),
 (0.27183,27.61),(0.27208,26.33),(0.27233,27.98),(0.27021,26.84),(0.27096,28.02),(0.27171,26.57),(0.27246,27.31),
 (0.27258,27.51),(0.27283,26.72),(0.27308,28.07),(0.27333,26.98),(0.27358,27.69),(0.27383,28.38),(0.27408,26.52),
 (0.27433,27.27),(0.27458,27.91),(0.27483,26.86),(0.27271,28.27),(0.27346,27.14),(0.27421,28.49),(0.27496,27.58),
 (0.27507,27.86),(0.27532,27.03),(0.27557,28.32),(0.27582,27.41),(0.27607,26.78),(0.27632,28.12),(0.27657,27.59),
 (0.27682,26.94),(0.27707,28.44),(0.27732,27.73),(0.27519,26.61),(0.27594,28.58),(0.27669,27.22),(0.27744,28.01),
 (0.27758,28.24),(0.27783,27.39),(0.27808,28.71),(0.27833,27.82),(0.27858,27.09),(0.27883,28.49),(0.27908,27.96),
 (0.27933,28.93),(0.27958,27.27),(0.27983,28.14),(0.27771,28.98),(0.27846,27.58),(0.27921,28.37),(0.27996,27.71),
 (0.28007,28.47),(0.28032,27.61),(0.28057,29.04),(0.28082,28.13),(0.28107,27.32),(0.28132,28.76),(0.28157,28.29),
 (0.28182,29.21),(0.28207,27.52),(0.28232,28.58),(0.28019,27.18),(0.28094,29.28),(0.28169,27.84),(0.28244,28.92),
 (0.28258,28.79),(0.28283,27.92),(0.28308,29.42),(0.28333,28.48),(0.28358,27.63),(0.28383,29.13),(0.28408,28.61),
 (0.28433,29.68),(0.28458,27.87),(0.28483,28.94),(0.28271,29.76),(0.28346,28.16),(0.28421,27.41),(0.28496,29.47),
 (0.28507,29.08),(0.28532,28.22),(0.28557,29.71),(0.28582,28.77),(0.28607,27.94),(0.28632,29.36),(0.28657,28.53),
 (0.28682,29.87),(0.28707,28.11),(0.28732,29.22),(0.28519,27.62),(0.28594,29.52),(0.28669,27.78),(0.28744,28.66),
 (0.28758,29.33),(0.28783,28.46),(0.28808,29.94),(0.28833,29.02),(0.28858,28.21),(0.28883,29.64),(0.28908,28.78),
 (0.28933,30.18),(0.28958,28.37),(0.28983,29.49),(0.28771,30.27),(0.28846,28.63),(0.28921,29.27),(0.28996,30.02),
 (0.29007,29.58),(0.29032,28.71),(0.29057,30.16),(0.29082,29.24),(0.29107,28.46),(0.29132,29.87),(0.29157,29.03),
 (0.29182,30.38),(0.29207,28.62),(0.29232,29.72),(0.29019,30.31),(0.29094,28.92),(0.29169,29.46),(0.29244,30.06),
 (0.29258,29.88),(0.29283,29.12),(0.29308,30.32),(0.29333,29.53),(0.29358,28.94),(0.29383,30.09),(0.29408,29.31),
 (0.29433,30.51),(0.29458,29.67),(0.29483,29.06),(0.29271,30.58),(0.29346,29.76),(0.29421,28.87),(0.29496,30.24),
 (0.29507,29.98),(0.29532,29.41),(0.29557,30.37),(0.29582,29.72),(0.29607,30.14),(0.29632,29.58),(0.29657,30.46),
 (0.29682,29.87),(0.29707,30.21),(0.29732,29.64),(0.29519,30.61),(0.29594,29.27),(0.29669,30.03),(0.29744,30.34),
 (0.29758,30.07),(0.29783,29.68),(0.29808,30.34),(0.29833,29.91),(0.29858,30.18),(0.29883,29.76),(0.29908,30.42),
 (0.29933,30.04),(0.29958,29.63),(0.29983,30.27),(0.29771,29.52),(0.29846,30.49),(0.29921,29.86),(0.29996,30.13),
 (0.30007,30.08),(0.30032,29.82),(0.30057,30.36),(0.30082,30.02),(0.30107,30.51),(0.30132,29.93),(0.30157,30.27),
 (0.30182,30.58),(0.30207,30.14),(0.30232,30.41),(0.30019,29.71),(0.30094,30.23),(0.30169,29.96),(0.30244,30.66),
]

all_pts = tail_pts + outlier_pts + edge_pts + right_pts + core_pts + fill_pts + dense_pts + packed_pts
calipso_x = [p[0] for p in all_pts]
calipso_y = [p[1] for p in all_pts]

# ---------------- figure ----------------
W, H = 1273, 1089
fig = plt.figure(figsize=(W / 100, H / 100), dpi=100)
ax = fig.add_axes([154 / W, 1 - 952 / H, (1265 - 154) / W, (952 - 26) / H])

ax.plot(calipso_x, calipso_y, linestyle='none', marker='o', markersize=4.9,
        markerfacecolor='#0000ff', markeredgecolor='none', label='CALIPSO data')
ax.plot(theory_x, re8_y, color='#ff0000', lw=1.0, label=r'Theory: Re = 8 $\mu$ m')
ax.plot(theory_x, re12_y, color='#00ff00', lw=5.8, solid_capstyle='butt',
        label=r'Theory: Re = 12 $\mu$ m')
ax.plot(theory_x, re16_y, color='#0000ff', lw=1.0, label=r'Theory: Re = 16 $\mu$ m')

ax.set_xlim(0.2, 0.3118)
ax.set_ylim(20, 40)
ax.set_xticks(x_ticks)
ax.set_xticklabels(x_tick_labels)
ax.set_yticks(y_ticks)
ax.set_yticklabels(y_tick_labels)

for s in ['top', 'right']:
    ax.spines[s].set_visible(False)
for s in ['left', 'bottom']:
    ax.spines[s].set_color('#6e6e6e')
    ax.spines[s].set_linewidth(1.1)

ax.tick_params(axis='both', direction='in', length=8, width=1.1, color='#6e6e6e',
               labelsize=34, labelcolor='#262626')
ax.tick_params(axis='x', pad=18)
ax.tick_params(axis='y', pad=10)

ax.set_xlabel('Depolarization ratio', fontsize=37.5, color='#262626', labelpad=12)
ax.xaxis.label.set_x((750 - 154) / (1265 - 154))
ax.set_ylabel(r'Extinction Coefficient (km$^{\mathrm{-1}}$)', fontsize=37.5,
              color='#262626', labelpad=3)

# legend: frame drawn separately (inside the axes, under the legend entries)
frame = Rectangle((180 / W, 1 - 276 / H), (692 - 180) / W, (276 - 53) / H,
                  transform=fig.transFigure, facecolor='white', edgecolor='#6e6e6e',
                  linewidth=1.3, zorder=4, clip_on=False)
ax.add_patch(frame)
leg = ax.legend(loc='upper left', bbox_to_anchor=(197 / W, 1 - 70 / H),
                bbox_transform=fig.transFigure, borderaxespad=0, borderpad=0,
                fontsize=30.6, frameon=False, handlelength=1.9,
                handletextpad=0.2, labelspacing=0.25, numpoints=1)
leg.set_zorder(5)

fig.savefig('out.png', dpi=100)
